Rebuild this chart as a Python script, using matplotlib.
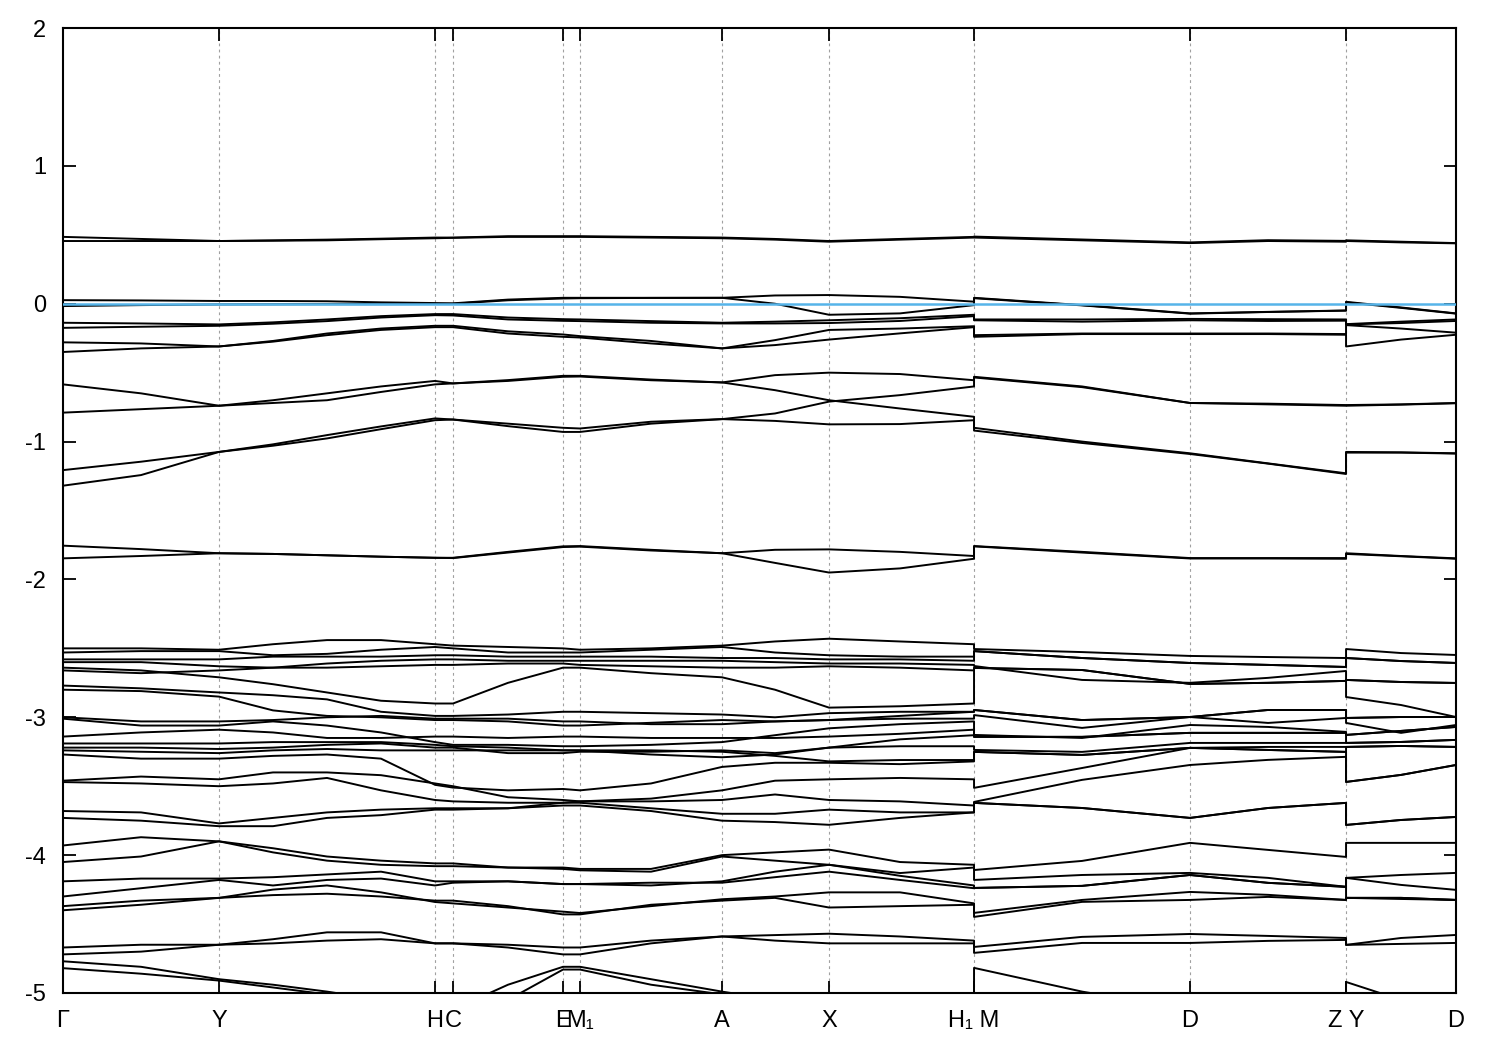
import matplotlib
matplotlib.use("Agg")
import matplotlib.pyplot as plt

plt.rcParams['font.family'] = ['Liberation Sans Narrow', 'Liberation Sans', 'DejaVu Sans']

# k-path sample positions (cumulative path length) for the three pieces of the path
k_seg1 = [0.00, 0.78, 1.56, 2.10, 2.64, 3.18, 3.72, 3.90, 4.45, 5.00, 5.17, 5.88, 6.59, 7.12, 7.66, 8.37, 9.11]  # G..H1
k_seg2 = [9.11, 10.19, 11.27, 12.05, 12.83]  # M..Z
k_seg3 = [12.83, 13.38, 13.93]  # Y..D

tick_pos = [0.00, 1.56, 3.72, 3.90, 5.00, 5.17, 6.59, 7.66, 9.11, 11.27, 12.83, 13.93]
tick_lab = ['Γ', 'Y', 'H', 'C', 'E', 'M₁', 'A', 'X', 'H₁ M', 'D', 'Z Y', 'D']

# ---- bands, segment 1 (Gamma -> H1), energies in eV
seg1_upper = [
    [0.485, 0.47, 0.455, 0.46, 0.465, 0.472, 0.48, 0.48, 0.49, 0.49, 0.49, 0.485, 0.48, 0.47, 0.455, 0.47, 0.485],
    [0.455, 0.455, 0.455, 0.457, 0.46, 0.468, 0.475, 0.478, 0.485, 0.485, 0.485, 0.48, 0.475, 0.465, 0.45, 0.465, 0.48],
    [0.026, 0.024, 0.02, 0.02, 0.018, 0.01, 0.005, 0.003, 0.03, 0.043, 0.043, 0.043, 0.043, 0.06, 0.063, 0.05, 0.015],
    [-0.017, -0.01, -0.005, -0.004, -0.003, -0.003, -0.002, 0.0, 0.025, 0.038, 0.04, 0.042, 0.043, 0.0, -0.08, -0.07, -0.01],
    [-0.138, -0.143, -0.15, -0.135, -0.114, -0.09, -0.075, -0.075, -0.1, -0.112, -0.114, -0.126, -0.138, -0.13, -0.12, -0.105, -0.08],
    [-0.175, -0.167, -0.16, -0.145, -0.126, -0.1, -0.083, -0.085, -0.114, -0.124, -0.126, -0.138, -0.143, -0.143, -0.14, -0.125, -0.09],
    [-0.28, -0.288, -0.31, -0.27, -0.216, -0.18, -0.16, -0.16, -0.2, -0.223, -0.235, -0.27, -0.324, -0.264, -0.19, -0.18, -0.163],
    [-0.35, -0.324, -0.31, -0.275, -0.228, -0.19, -0.17, -0.17, -0.216, -0.24, -0.245, -0.288, -0.324, -0.3, -0.26, -0.215, -0.17],
    [-0.585, -0.65, -0.74, -0.7, -0.65, -0.6, -0.56, -0.578, -0.554, -0.523, -0.523, -0.55, -0.571, -0.518, -0.5, -0.51, -0.555],
    [-0.79, -0.765, -0.74, -0.72, -0.7, -0.64, -0.585, -0.578, -0.56, -0.53, -0.528, -0.555, -0.571, -0.627, -0.7, -0.76, -0.82],
    [-1.207, -1.146, -1.075, -1.02, -0.953, -0.89, -0.832, -0.84, -0.87, -0.9, -0.905, -0.856, -0.837, -0.796, -0.71, -0.663, -0.6],
    [-1.32, -1.243, -1.075, -1.03, -0.977, -0.91, -0.845, -0.84, -0.888, -0.93, -0.93, -0.87, -0.837, -0.85, -0.875, -0.873, -0.845],
    [-1.755, -1.78, -1.81, -1.815, -1.825, -1.835, -1.843, -1.843, -1.8, -1.76, -1.758, -1.785, -1.81, -1.785, -1.782, -1.8, -1.83],
    [-1.847, -1.83, -1.81, -1.815, -1.825, -1.835, -1.843, -1.845, -1.805, -1.765, -1.762, -1.79, -1.81, -1.88, -1.95, -1.92, -1.85],
]

seg1_lower = [
    [-2.50, -2.50, -2.51, -2.47, -2.44, -2.44, -2.47, -2.48, -2.49, -2.50, -2.51, -2.50, -2.48, -2.45, -2.43, -2.45, -2.47],
    [-2.53, -2.52, -2.52, -2.55, -2.54, -2.51, -2.49, -2.50, -2.53, -2.53, -2.53, -2.51, -2.49, -2.53, -2.55, -2.56, -2.56],
    [-2.58, -2.58, -2.58, -2.56, -2.56, -2.56, -2.55, -2.55, -2.56, -2.56, -2.56, -2.56, -2.57, -2.57, -2.58, -2.58, -2.59],
    [-2.60, -2.60, -2.63, -2.64, -2.61, -2.59, -2.58, -2.58, -2.59, -2.59, -2.59, -2.59, -2.59, -2.60, -2.61, -2.61, -2.62],
    [-2.64, -2.66, -2.71, -2.76, -2.82, -2.88, -2.90, -2.90, -2.75, -2.64, -2.64, -2.68, -2.71, -2.80, -2.93, -2.92, -2.90],
    [-2.66, -2.68, -2.66, -2.64, -2.64, -2.63, -2.62, -2.62, -2.61, -2.61, -2.62, -2.63, -2.64, -2.64, -2.63, -2.64, -2.66],
    [-2.77, -2.79, -2.82, -2.84, -2.87, -2.96, -2.99, -2.99, -2.98, -2.96, -2.96, -2.97, -2.98, -3.00, -2.97, -2.96, -2.96],
    [-2.80, -2.81, -2.85, -2.95, -2.99, -3.00, -3.02, -3.02, -3.03, -3.06, -3.06, -3.04, -3.02, -3.03, -3.02, -3.01, -3.01],
    [-3.00, -3.03, -3.03, -3.02, -3.00, -2.99, -3.01, -3.01, -3.01, -3.03, -3.03, -3.05, -3.05, -3.03, -3.02, -2.99, -2.96],
    [-3.01, -3.06, -3.06, -3.03, -3.06, -3.11, -3.18, -3.20, -3.20, -3.21, -3.21, -3.20, -3.18, -3.13, -3.08, -3.05, -3.03],
    [-3.14, -3.11, -3.09, -3.11, -3.15, -3.15, -3.14, -3.14, -3.15, -3.14, -3.14, -3.15, -3.15, -3.15, -3.14, -3.12, -3.09],
    [-3.19, -3.19, -3.19, -3.18, -3.18, -3.18, -3.20, -3.21, -3.22, -3.24, -3.24, -3.27, -3.29, -3.27, -3.22, -3.16, -3.13],
    [-3.22, -3.22, -3.23, -3.22, -3.20, -3.19, -3.22, -3.22, -3.26, -3.26, -3.25, -3.25, -3.24, -3.26, -3.22, -3.21, -3.21],
    [-3.24, -3.25, -3.26, -3.24, -3.23, -3.24, -3.24, -3.24, -3.24, -3.24, -3.24, -3.24, -3.25, -3.28, -3.32, -3.31, -3.31],
    [-3.27, -3.30, -3.30, -3.28, -3.27, -3.30, -3.49, -3.51, -3.53, -3.52, -3.53, -3.48, -3.36, -3.33, -3.33, -3.34, -3.32],
    [-3.46, -3.43, -3.45, -3.40, -3.40, -3.42, -3.48, -3.50, -3.58, -3.60, -3.61, -3.59, -3.53, -3.46, -3.45, -3.44, -3.45],
    [-3.47, -3.48, -3.50, -3.48, -3.44, -3.53, -3.60, -3.61, -3.62, -3.62, -3.61, -3.61, -3.60, -3.56, -3.60, -3.61, -3.64],
    [-3.68, -3.69, -3.77, -3.73, -3.69, -3.67, -3.66, -3.66, -3.66, -3.62, -3.62, -3.66, -3.70, -3.70, -3.67, -3.69, -3.69],
    [-3.73, -3.75, -3.79, -3.79, -3.73, -3.71, -3.67, -3.67, -3.66, -3.64, -3.64, -3.68, -3.75, -3.76, -3.78, -3.73, -3.69],
    [-3.93, -3.87, -3.90, -3.98, -4.04, -4.07, -4.08, -4.08, -4.09, -4.09, -4.10, -4.10, -4.00, -3.98, -3.96, -4.05, -4.07],
    [-4.05, -4.01, -3.90, -3.95, -4.01, -4.04, -4.06, -4.06, -4.09, -4.10, -4.11, -4.12, -4.01, -4.04, -4.07, -4.13, -4.09],
    [-4.19, -4.17, -4.17, -4.16, -4.14, -4.12, -4.19, -4.19, -4.19, -4.21, -4.21, -4.22, -4.19, -4.12, -4.07, -4.15, -4.22],
    [-4.30, -4.24, -4.18, -4.22, -4.18, -4.17, -4.22, -4.20, -4.19, -4.21, -4.21, -4.20, -4.20, -4.16, -4.12, -4.18, -4.24],
    [-4.37, -4.33, -4.31, -4.25, -4.22, -4.27, -4.34, -4.35, -4.38, -4.41, -4.42, -4.37, -4.32, -4.30, -4.27, -4.27, -4.35],
    [-4.40, -4.36, -4.31, -4.29, -4.28, -4.30, -4.33, -4.33, -4.37, -4.43, -4.43, -4.36, -4.33, -4.31, -4.38, -4.37, -4.36],
    [-4.67, -4.65, -4.65, -4.61, -4.56, -4.56, -4.64, -4.64, -4.65, -4.67, -4.67, -4.62, -4.59, -4.58, -4.57, -4.59, -4.62],
    [-4.72, -4.70, -4.65, -4.64, -4.62, -4.61, -4.64, -4.64, -4.67, -4.72, -4.72, -4.64, -4.59, -4.62, -4.64, -4.64, -4.64],
    [-4.77, -4.81, -4.90, -4.94, -4.99, -5.05, -5.12, -5.12, -4.94, -4.81, -4.81, -4.90, -4.99, -5.05, -5.12, -5.12, -5.01],
    [-4.82, -4.86, -4.91, -4.96, -5.01, -5.09, -5.20, -5.20, -5.05, -4.83, -4.83, -4.94, -5.01, -5.09, -5.20, -5.20, -5.20],
]

# ---- segment 2 (M -> Z)
seg2_upper = [
    [0.487, 0.466, 0.445, 0.461, 0.456],
    [0.48, 0.46, 0.44, 0.455, 0.45],
    [0.043, -0.01, -0.07, -0.059, -0.049],
    [0.04, -0.012, -0.072, -0.06, -0.05],
    [-0.114, -0.114, -0.11, -0.112, -0.114],
    [-0.12, -0.13, -0.12, -0.125, -0.123],
    [-0.228, -0.216, -0.216, -0.216, -0.22],
    [-0.24, -0.22, -0.22, -0.22, -0.225],
    [-0.53, -0.6, -0.72, -0.725, -0.735],
    [-0.535, -0.605, -0.72, -0.73, -0.74],
    [-0.9, -1.0, -1.085, -1.158, -1.23],
    [-0.92, -1.01, -1.09, -1.16, -1.235],
    [-1.758, -1.8, -1.845, -1.845, -1.845],
    [-1.76, -1.805, -1.848, -1.848, -1.85],
]

seg2_lower = [
    [-2.505, -2.527, -2.555, -2.563, -2.57],
    [-2.52, -2.57, -2.606, -2.62, -2.635],
    [-2.52, -2.57, -2.606, -2.62, -2.635],
    [-2.628, -2.729, -2.75, -2.714, -2.664],
    [-2.642, -2.657, -2.758, -2.75, -2.736],
    [-2.642, -2.657, -2.758, -2.75, -2.736],
    [-2.947, -3.02, -2.998, -2.947, -2.947],
    [-2.947, -3.02, -2.998, -2.947, -2.947],
    [-2.984, -3.077, -2.998, -3.041, -3.005],
    [-3.128, -3.15, -3.056, -3.07, -3.106],
    [-3.142, -3.142, -3.113, -3.113, -3.113],
    [-3.142, -3.142, -3.113, -3.113, -3.113],
    [-3.237, -3.251, -3.186, -3.186, -3.186],
    [-3.251, -3.273, -3.222, -3.237, -3.251],
    [-3.251, -3.273, -3.222, -3.237, -3.251],
    [-3.512, -3.368, -3.222, -3.215, -3.215],
    [-3.614, -3.454, -3.346, -3.309, -3.287],
    [-3.621, -3.658, -3.73, -3.658, -3.621],
    [-3.621, -3.658, -3.73, -3.658, -3.621],
    [-4.108, -4.042, -3.911, -3.962, -4.013],
    [-4.18, -4.144, -4.129, -4.165, -4.23],
    [-4.238, -4.223, -4.144, -4.201, -4.23],
    [-4.238, -4.223, -4.144, -4.201, -4.23],
    [-4.419, -4.325, -4.267, -4.288, -4.325],
    [-4.448, -4.339, -4.325, -4.303, -4.325],
    [-4.666, -4.593, -4.572, -4.586, -4.601],
    [-4.709, -4.637, -4.637, -4.622, -4.615],
    [-4.818, -4.99, -5.12, -5.2, -5.27],
    [-5.2, -5.25, -5.3, -5.3, -5.3],
]

# ---- segment 3 (Y -> D)
seg3_upper = [
    [0.46, 0.45, 0.44],
    [0.455, 0.445, 0.438],
    [0.014, -0.027, -0.07],
    [0.01, -0.03, -0.072],
    [-0.148, -0.13, -0.114],
    [-0.15, -0.14, -0.125],
    [-0.155, -0.18, -0.21],
    [-0.31, -0.26, -0.225],
    [-0.735, -0.73, -0.72],
    [-0.74, -0.732, -0.722],
    [-1.075, -1.078, -1.085],
    [-1.08, -1.08, -1.087],
    [-1.81, -1.83, -1.847],
    [-1.815, -1.832, -1.85],
]

seg3_lower = [
    [-2.505, -2.534, -2.548],
    [-2.57, -2.592, -2.606],
    [-2.57, -2.592, -2.606],
    [-2.729, -2.744, -2.751],
    [-2.729, -2.744, -2.751],
    [-2.853, -2.911, -2.998],
    [-3.005, -2.998, -2.998],
    [-3.005, -2.998, -2.998],
    [-3.041, -3.113, -3.056],
    [-3.128, -3.099, -3.07],
    [-3.128, -3.099, -3.07],
    [-3.186, -3.179, -3.164],
    [-3.186, -3.179, -3.164],
    [-3.215, -3.208, -3.215],
    [-3.215, -3.208, -3.215],
    [-3.469, -3.418, -3.346],
    [-3.469, -3.418, -3.346],
    [-3.781, -3.745, -3.723],
    [-3.781, -3.745, -3.723],
    [-3.911, -3.911, -3.911],
    [-4.165, -4.144, -4.129],
    [-4.165, -4.216, -4.252],
    [-4.31, -4.318, -4.325],
    [-4.31, -4.31, -4.325],
    [-4.31, -4.31, -4.325],
    [-4.651, -4.601, -4.579],
    [-4.651, -4.644, -4.637],
    [-4.92, -5.05, -5.12],
    [-5.3, -5.3, -5.3],
]


def join(left, right):
    # bands are stored energy-ordered, so connect them in order across the jump
    left = sorted(left, key=lambda b: b[-1], reverse=True)
    right = sorted(right, key=lambda b: b[0], reverse=True)
    return [a + b for a, b in zip(left, right)]


bands = join(join(seg1_upper + seg1_lower, seg2_upper + seg2_lower), seg3_upper + seg3_lower)
k_all = k_seg1 + k_seg2 + k_seg3

fig = plt.figure(figsize=(15, 10.5), dpi=100)
ax = fig.add_axes([0.042, 0.0543, 0.9287, 0.919])

for x in tick_pos[1:-1]:
    ax.axvline(x, color='#a0a0a0', lw=0.8, ls=(0, (2.5, 3)), zorder=1)

for b in bands:
    ax.plot(k_all, b, color='black', lw=1.4, zorder=2)

ax.axhline(0, color='#56b4e9', lw=1.8, zorder=3)

ax.set_xlim(k_all[0], k_all[-1])
ax.set_ylim(-5, 2)
ax.set_yticks(range(-5, 3))
ax.set_yticklabels([str(v) for v in range(-5, 3)])
ax.set_xticks(tick_pos)
ax.set_xticklabels(tick_lab)
ax.tick_params(direction='in', length=9, width=1.3, top=True, right=True, labelsize=17)
ax.tick_params(axis='y', pad=12)
ax.tick_params(axis='x', pad=12)
for s in ax.spines.values():
    s.set_linewidth(1.5)

fig.savefig('out.png', dpi=100)
